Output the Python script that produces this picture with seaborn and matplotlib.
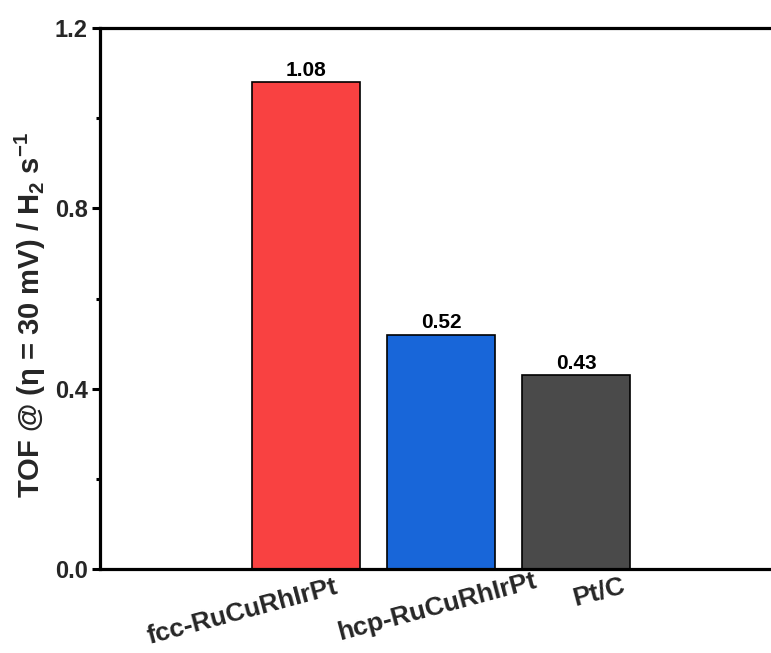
import matplotlib
matplotlib.use("Agg")
import matplotlib.pyplot as plt
import matplotlib.transforms as mtransforms
import seaborn as sns
import pandas as pd

# TOF values per catalyst
catalysts = ["fcc-RuCuRhIrPt", "hcp-RuCuRhIrPt", "Pt/C"]
tof = [1.08, 0.52, 0.43]
value_labels = ["1.08", "0.52", "0.43"]
bar_colors = ["#F94141", "#1866D9", "#4A4A4A"]
y_ticks = [0.0, 0.4, 0.8, 1.2]
y_minor = [0.2, 0.6, 1.0]

sns.set_theme(style="white")
plt.rcParams["font.family"] = ["Liberation Sans", "DejaVu Sans"]
plt.rcParams["font.weight"] = "bold"
plt.rcParams["mathtext.fontset"] = "custom"
plt.rcParams["mathtext.rm"] = "Liberation Sans:bold"
plt.rcParams["mathtext.bf"] = "Liberation Sans:bold"
plt.rcParams["mathtext.default"] = "bf"

df = pd.DataFrame({"catalyst": catalysts, "tof": tof})

fig = plt.figure(figsize=(7.71, 6.53), dpi=100)
ax = fig.add_axes([100 / 771, 1 - 569 / 653, 671 / 771, (569 - 28) / 653])

sns.barplot(data=df, x="catalyst", y="tof", hue="catalyst", palette=bar_colors,
            width=0.8, edgecolor="black", linewidth=1.2, saturation=1,
            legend=False, ax=ax)

ax.set_xlim(-1.526, 3.444)
ax.set_ylim(0, 1.2)
ax.set_yticks(y_ticks)
ax.set_yticks(y_minor, minor=True)
ax.set_yticklabels([f"{t:.1f}" for t in y_ticks], fontsize=17, fontweight="bold")

for spine in ["left", "top", "bottom"]:
    ax.spines[spine].set_visible(True)
    ax.spines[spine].set_color("black")
    ax.spines[spine].set_linewidth(2.3)
ax.spines["right"].set_visible(False)

ax.tick_params(axis="y", which="major", direction="out", length=6, width=2.2,
               color="black", left=True, pad=3)
ax.tick_params(axis="y", which="minor", direction="out", length=3, width=2.2,
               color="black", left=True)
ax.tick_params(axis="x", which="both", bottom=False, length=0, pad=0)

# value labels above the bars
for i, (v, lab) in enumerate(zip(tof, value_labels)):
    ax.text(i, v + 0.005, lab, ha="center", va="bottom", fontsize=15,
            fontweight="bold", color="black")

# rotated category labels with individual offsets (pixels: right, down)
ax.set_xticks(range(len(catalysts)))
ax.set_xticklabels(catalysts, rotation=15, ha="center", va="center",
                   rotation_mode="default", fontsize=19, fontweight="bold")
offsets = [(-64, 43), (-4.5, 38), (23, 23)]
for lbl, (dx, dy) in zip(ax.get_xticklabels(), offsets):
    lbl.set_transform(lbl.get_transform() +
                      mtransforms.ScaledTranslation(dx / 100, -dy / 100, fig.dpi_scale_trans))

ax.set_xlabel("")
ax.set_ylabel(r"TOF @ (η = 30 mV) / H$_2$ s$^{-1}$", fontsize=21,
              fontweight="bold")
ax.yaxis.label.set_va("center")
ax.yaxis.set_label_coords((30 - 100) / 671, (569 - 315) / 541)

fig.savefig("out.png", dpi=100, facecolor="white")
